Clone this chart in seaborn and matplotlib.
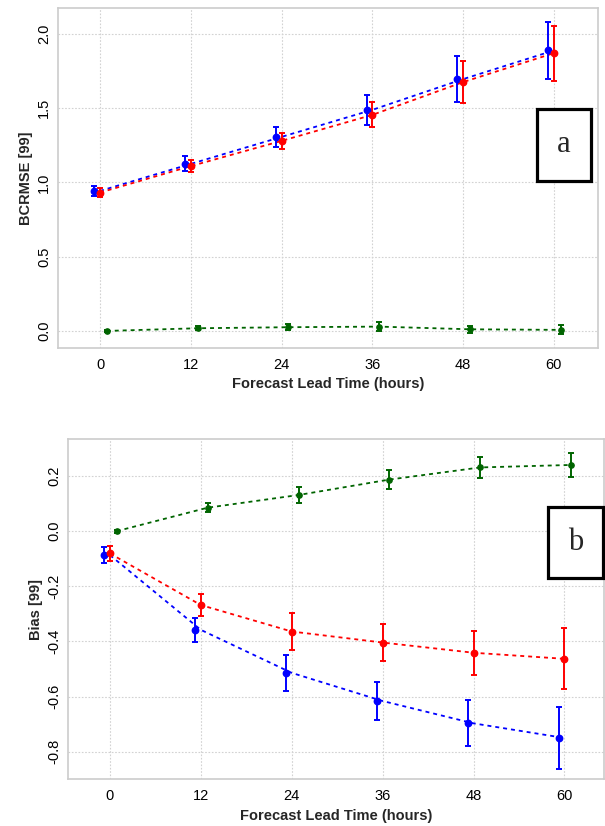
import numpy as np
import pandas as pd
import matplotlib
matplotlib.use("Agg")
import matplotlib.pyplot as plt
from matplotlib.patches import Rectangle
import seaborn as sns

sns.set_style("white")
plt.rcParams['font.family'] = ['Liberation Sans', 'DejaVu Sans']

lead_hours = [0, 12, 24, 36, 48, 60]
x_ticks = [0, 12, 24, 36, 48, 60]

# Panel a: BCRMSE
rmse_blue = [0.943, 1.125, 1.307, 1.489, 1.696, 1.889]
rmse_blue_err = [0.035, 0.05, 0.065, 0.10, 0.154, 0.19]
rmse_red = [0.932, 1.11, 1.28, 1.455, 1.676, 1.871]
rmse_red_err = [0.03, 0.042, 0.056, 0.084, 0.14, 0.185]
rmse_green = [0.0, 0.018, 0.025, 0.029, 0.011, 0.007]
rmse_green_err = [0.005, 0.015, 0.02, 0.03, 0.025, 0.03]

# Panel b: Bias
bias_blue = [-0.087, -0.358, -0.514, -0.616, -0.697, -0.75]
bias_blue_err = [0.028, 0.043, 0.064, 0.068, 0.083, 0.113]
bias_red = [-0.081, -0.268, -0.364, -0.404, -0.441, -0.463]
bias_red_err = [0.028, 0.04, 0.067, 0.068, 0.08, 0.111]
bias_green = [0.0, 0.085, 0.131, 0.187, 0.231, 0.24]
bias_green_err = [0.005, 0.017, 0.029, 0.033, 0.037, 0.045]

y_ticks_a = [0.0, 0.5, 1.0, 1.5, 2.0]
y_ticks_b = [-0.8, -0.6, -0.4, -0.2, 0.0, 0.2]

fig = plt.figure(figsize=(6.05, 8.26), dpi=100)
ax_a = fig.add_axes([0.0959, 0.5787, 0.988 - 0.0959, 0.9903 - 0.5787])
ax_b = fig.add_axes([0.1129, 0.0565, 0.998 - 0.1129, 0.4685 - 0.0565])

series_style = [
    # color, point offset, line offset, marker size
    ("#0000ff", -0.75, 0.0, 4.6),
    ("#ff0000", 0.0, 0.0, 4.6),
    ("#006400", 0.9, 0.9, 3.8),
]


def draw_panel(ax, vals, errs, ylim, yticks, ylabel, letter, box):
    for (col, poff, loff, ms), v, e in zip(series_style, vals, errs):
        df = pd.DataFrame({"x": np.array(lead_hours) + loff, "y": v})
        sns.lineplot(data=df, x="x", y="y", ax=ax, color=col, lw=1.3,
                     linestyle=(0, (2.2, 2.2)), zorder=2)
        ax.errorbar(np.array(lead_hours) + poff, v, yerr=e, fmt="o", color=col,
                    ms=ms, elinewidth=1.4, capsize=2.3, capthick=1.4, zorder=3)
    ax.set_xlim(-5.55, 65.8)
    ax.set_ylim(*ylim)
    ax.set_xticks(x_ticks)
    ax.set_xticklabels([str(t) for t in x_ticks])
    ax.set_yticks(yticks)
    ax.set_yticklabels([f"{t:.1f}" for t in yticks], rotation=90, va="center")
    ax.tick_params(length=0, labelsize=10.5, colors="black")
    ax.tick_params(axis="x", pad=7)
    ax.tick_params(axis="y", pad=5)
    ax.grid(True, color="#d2d2d2", linestyle=(0, (1.5, 1.5)), lw=0.8)
    ax.set_axisbelow(True)
    for s in ax.spines.values():
        s.set_color("#cccccc")
        s.set_linewidth(1.2)
    ax.set_xlabel("Forecast Lead Time (hours)", fontsize=10.5, fontweight="bold", labelpad=4)
    ax.set_ylabel(ylabel, fontsize=10.5, fontweight="bold", labelpad=3)
    x0, y0, x1, y1 = box
    W, H = 605.0, 826.0
    fig.patches.append(Rectangle((x0 / W, 1 - y1 / H), (x1 - x0) / W, (y1 - y0) / H,
                                 transform=fig.transFigure, facecolor="white",
                                 edgecolor="black", lw=2.3, zorder=10))
    fig.text((x0 + x1) / 2 / W, 1 - (y0 + y1) / 2 / H, letter, ha="center", va="center",
             fontsize=22, family=["Liberation Serif", "DejaVu Serif"], zorder=11)


draw_panel(ax_a, [rmse_blue, rmse_red, rmse_green],
           [rmse_blue_err, rmse_red_err, rmse_green_err],
           (-0.115, 2.175), y_ticks_a, "BCRMSE [99]", "a", (536.7, 109, 590.7, 180.7))
draw_panel(ax_b, [bias_blue, bias_red, bias_green],
           [bias_blue_err, bias_red_err, bias_green_err],
           (-0.9, 0.334), y_ticks_b, "Bias [99]", "b", (547.7, 506.7, 602.7, 578.3))
ax_b.set_xlim(-5.5, 65.2)

fig.savefig("out.png", dpi=100)
